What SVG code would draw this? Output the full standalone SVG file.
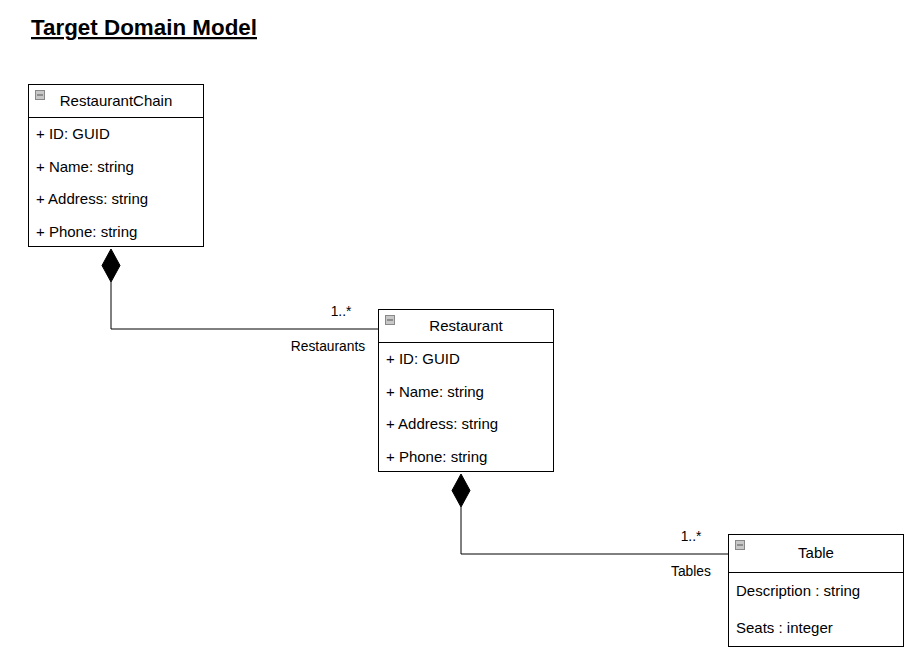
<svg xmlns="http://www.w3.org/2000/svg" width="920" height="663" viewBox="0 0 920 663">
<style>
text{font-family:"Liberation Sans",Arial,sans-serif;fill:#000}
.t{font-size:15px}
.a{font-size:15px}
.l{font-size:13.8px}
.box{fill:#fff;stroke:#000;stroke-width:1}
.sep{stroke:#000;stroke-width:1}
.ic{fill:#c8c8c8;stroke:#888;stroke-width:1}
.icl{stroke:#555;stroke-width:1}
.edge{fill:none;stroke:#000;stroke-width:1}
.dia{fill:#000;stroke:#000}
</style>
<rect width="920" height="663" fill="#fff"/>
<text x="31" y="35" font-size="22.4" font-weight="bold" text-decoration="underline">Target Domain Model</text>
<g id="connectors">
<path class="edge" d="M111 282 V329 H378"/>
<path class="dia" d="M111 249 L120 265.5 L111 282 L102 265.5 Z"/>
<text class="l" x="341" y="316" text-anchor="middle">1..*</text>
<text class="l" x="328" y="351" text-anchor="middle">Restaurants</text>
<path class="edge" d="M461 507 V554 H728"/>
<path class="dia" d="M461 474 L470 490.5 L461 507 L452 490.5 Z"/>
<text class="l" x="691" y="541" text-anchor="middle">1..*</text>
<text class="l" x="691" y="576" text-anchor="middle">Tables</text>
</g>
<g id="RestaurantChain">
<rect class="box" x="28.5" y="84.5" width="175" height="162"/>
<line class="sep" x1="28.5" y1="117.5" x2="203.5" y2="117.5"/>
<rect class="ic" x="35.5" y="90.5" width="9" height="9"/>
<line class="icl" x1="37" y1="95" x2="43" y2="95"/>
<text class="t" x="116" y="106" text-anchor="middle">RestaurantChain</text>
<text class="a" x="36" y="139">+ ID: GUID</text>
<text class="a" x="36" y="172">+ Name: string</text>
<text class="a" x="36" y="204">+ Address: string</text>
<text class="a" x="36" y="237">+ Phone: string</text>
</g>
<g id="Restaurant">
<rect class="box" x="378.5" y="309.5" width="175" height="162"/>
<line class="sep" x1="378.5" y1="342.5" x2="553.5" y2="342.5"/>
<rect class="ic" x="385.5" y="315.5" width="9" height="9"/>
<line class="icl" x1="387" y1="320" x2="393" y2="320"/>
<text class="t" x="466" y="331" text-anchor="middle">Restaurant</text>
<text class="a" x="386" y="364">+ ID: GUID</text>
<text class="a" x="386" y="397">+ Name: string</text>
<text class="a" x="386" y="429">+ Address: string</text>
<text class="a" x="386" y="462">+ Phone: string</text>
</g>
<g id="Table">
<rect class="box" x="728.5" y="534.5" width="175" height="112"/>
<line class="sep" x1="728.5" y1="572.5" x2="903.5" y2="572.5"/>
<rect class="ic" x="735.5" y="540.5" width="9" height="9"/>
<line class="icl" x1="737" y1="545" x2="743" y2="545"/>
<text class="t" x="816" y="558" text-anchor="middle">Table</text>
<text class="a" x="736" y="596">Description : string</text>
<text class="a" x="736" y="633">Seats : integer</text>
</g>
</svg>
